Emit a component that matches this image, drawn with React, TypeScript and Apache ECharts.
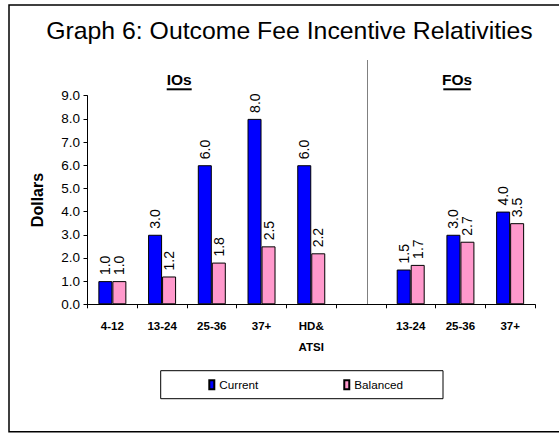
import React, { useEffect, useRef } from "react";
import * as echarts from "echarts";

const categories = ["4-12", "13-24", "25-36", "37+", "HD&\nATSI", "", "13-24", "25-36", "37+"];
const current = [1.0, 3.0, 6.0, 8.0, 6.0, null, 1.5, 3.0, 4.0];
const balanced = [1.0, 1.2, 1.8, 2.5, 2.2, null, 1.7, 2.7, 3.5];
const seriesNames = ["Current", "Balanced"];
const titleText = "Graph 6: Outcome Fee Incentive Relativities";
const groupLabels = ["IOs", "FOs"];
const yName = "Dollars";

const ARIAL = "'Liberation Sans', Arial, sans-serif";

export default function App() {
  const ref = useRef<HTMLDivElement>(null);
  useEffect(() => {
    if (!ref.current) return;
    const chart = echarts.init(ref.current, null, { renderer: "svg" });
    const barLabel = {
      show: true,
      position: "top",
      rotate: 90,
      align: "left",
      verticalAlign: "middle",
      distance: 6,
      fontFamily: ARIAL,
      fontSize: 14,
      color: "#000",
      formatter: (p: any) => (p.value == null ? "" : Number(p.value).toFixed(1)),
    };
    const option: any = {
      animation: false,
      backgroundColor: "#fff",
      grid: { left: 87.5, right: 24, top: 95.7, bottom: 128.7, containLabel: false },
      xAxis: {
        type: "category",
        data: categories,
        axisLine: { lineStyle: { color: "#000", width: 1 } },
        axisTick: { show: true, interval: 0, length: 4, lineStyle: { color: "#000" } },
        axisLabel: {
          interval: 0,
          fontFamily: ARIAL,
          fontWeight: "bold",
          fontSize: 11.5,
          color: "#000",
          margin: 11,
          lineHeight: 21,
        },
      },
      yAxis: {
        type: "value",
        min: 0,
        max: 9,
        interval: 1,
        name: yName,
        nameLocation: "middle",
        nameGap: 42.5,
        nameRotate: 90,
        nameTextStyle: { fontFamily: ARIAL, fontWeight: "bold", fontSize: 16, color: "#000" },
        axisLine: { show: true, lineStyle: { color: "#000", width: 1 } },
        axisTick: { show: true, length: 4, lineStyle: { color: "#000" } },
        splitLine: { show: false },
        axisLabel: {
          formatter: (v: number) => v.toFixed(1),
          fontFamily: ARIAL,
          fontSize: 13.5,
          color: "#000",
          margin: 7.5,
        },
      },
      legend: {
        data: seriesNames,
        left: 160.7,
        top: 370.7,
        orient: "horizontal",
        icon: "rect",
        itemWidth: 5,
        itemHeight: 9,
        itemGap: 85,
        borderColor: "#000",
        borderWidth: 1,
        padding: [8, 40, 8, 47.6],
        textStyle: { fontFamily: ARIAL, fontSize: 11.7, color: "#000" },
      },
      series: [
        {
          name: seriesNames[0],
          type: "bar",
          data: current,
          barWidth: 14,
          barGap: "0%",
          itemStyle: { color: "#0000FF", borderColor: "#000", borderWidth: 1 },
          label: barLabel,
        },
        {
          name: seriesNames[1],
          type: "bar",
          data: balanced,
          barWidth: 14,
          barGap: "0%",
          itemStyle: { color: "#FF99CC", borderColor: "#000", borderWidth: 1 },
          label: barLabel,
        },
      ],
      graphic: [
        {
          type: "rect",
          silent: true,
          shape: { x: 9, y: 5, width: 600, height: 426.7 },
          style: { fill: "none", stroke: "#000", lineWidth: 1.5 },
        },
        {
          type: "text",
          x: 289.5,
          y: 30,
          style: {
            text: titleText,
            fontFamily: ARIAL,
            fontSize: 24.8,
            fill: "#000",
            align: "center",
            verticalAlign: "middle",
          },
        },
        {
          type: "line",
          silent: true,
          shape: { x1: 367.5, y1: 60, x2: 367.5, y2: 304.3 },
          style: { stroke: "#808080", lineWidth: 1 },
        },
        {
          type: "text",
          x: 179.2,
          y: 79,
          style: {
            text: groupLabels[0],
            fontFamily: ARIAL,
            fontWeight: "bold",
            fontSize: 15.5,
            fill: "#000",
            align: "center",
            verticalAlign: "middle",
          },
        },
        {
          type: "line",
          silent: true,
          shape: { x1: 166.7, y1: 89.3, x2: 191.7, y2: 89.3 },
          style: { stroke: "#000", lineWidth: 2 },
        },
        {
          type: "text",
          x: 457,
          y: 79,
          style: {
            text: groupLabels[1],
            fontFamily: ARIAL,
            fontWeight: "bold",
            fontSize: 15.5,
            fill: "#000",
            align: "center",
            verticalAlign: "middle",
          },
        },
        {
          type: "line",
          silent: true,
          shape: { x1: 443.3, y1: 89.3, x2: 470.7, y2: 89.3 },
          style: { stroke: "#000", lineWidth: 2 },
        },
      ],
    };
    chart.setOption(option);
    return () => chart.dispose();
  }, []);
  return (
    <div
      ref={ref}
      style={{ position: "fixed", left: 0, top: 0, width: 559, height: 433, background: "#fff" }}
    />
  );
}
